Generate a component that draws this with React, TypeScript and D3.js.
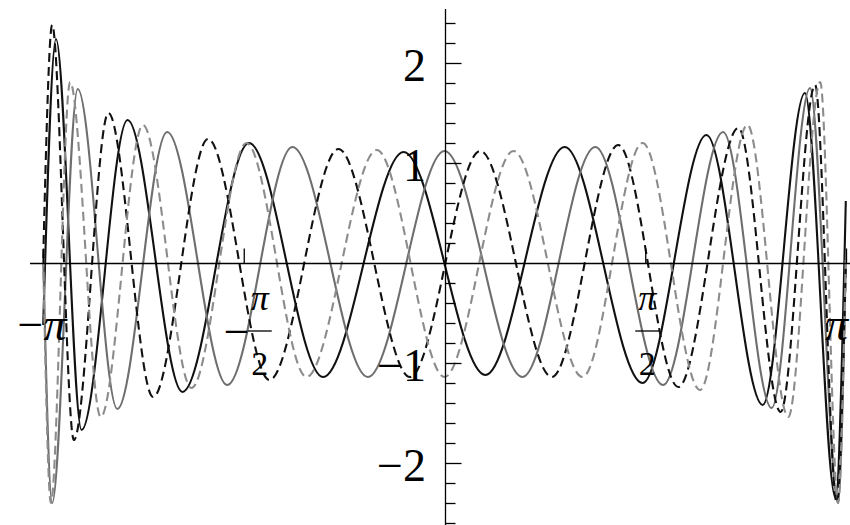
import React, { useEffect, useRef } from 'react';
import * as d3 from 'd3';

const W = 850;
const H = 525;

// turning points of each curve, x in radians
const blackSolidX = [-3.14, -3.04, -2.84, -2.48, -2.05, -1.53, -0.95, -0.32, 0.32, 0.94, 1.55, 2.05, 2.49, 2.82, 3.06, 3.14];
const blackSolidY = [-0.62, 2.24, -1.67, 1.43, -1.29, 1.20, -1.14, 1.11, -1.12, 1.16, -1.20, 1.28, -1.42, 1.70, -2.35, 0.62];

const graySolidX = [-3.14, -3.07, -2.87, -2.56, -2.17, -1.70, -1.19, -0.60, 0.0, 0.61, 1.18, 1.71, 2.18, 2.56, 2.86, 3.08, 3.14];
const graySolidY = [0.05, -2.40, 1.74, -1.46, 1.31, -1.22, 1.16, -1.14, 1.12, -1.14, 1.16, -1.22, 1.31, -1.45, 1.75, -2.40, 0.05];

const blackDashX = [-3.14, -3.07, -2.90, -2.63, -2.28, -1.85, -1.37, -0.83, -0.27, 0.28, 0.84, 1.36, 1.83, 2.30, 2.63, 2.90, 3.07, 3.14];
const blackDashY = [0.05, 2.38, -1.77, 1.50, -1.34, 1.24, -1.17, 1.14, -1.14, 1.12, -1.14, 1.18, -1.24, 1.35, -1.49, 1.78, -2.40, -0.05];

const grayDashX = [-3.14, -3.08, -2.93, -2.69, -2.36, -1.98, -1.55, -1.08, -0.53, 0.0, 0.54, 1.08, 1.55, 2.00, 2.37, 2.69, 2.94, 3.08, 3.14];
const grayDashY = [0.05, -2.40, 1.81, -1.54, 1.38, -1.25, 1.20, -1.14, 1.13, -1.14, 1.12, -1.14, 1.20, -1.27, 1.38, -1.54, 1.81, -2.40, 0.05];

const yMajor = [-2, -1, 1, 2];
const yMajorLabels = ['\u22122', '\u22121', '1', '2'];
const yMinor = [-2.6, -2.4, -2.2, -1.8, -1.6, -1.4, -1.2, -0.8, -0.6, -0.4, -0.2, 0.2, 0.4, 0.6, 0.8, 1.2, 1.4, 1.6, 1.8, 2.2, 2.4];
const xTicks = [-Math.PI, -Math.PI / 2, Math.PI / 2, Math.PI];

const series = [
  { xs: blackSolidX, ys: blackSolidY, color: '#111', dash: null },
  { xs: graySolidX, ys: graySolidY, color: '#6e6e6e', dash: null },
  { xs: blackDashX, ys: blackDashY, color: '#111', dash: '9,5' },
  { xs: grayDashX, ys: grayDashY, color: '#8c8c8c', dash: '9,5' },
];

function Chart() {
  const ref = useRef<SVGSVGElement>(null);

  useEffect(() => {
    const svg = d3.select(ref.current);
    svg.selectAll('*').remove();

    const x = d3.scaleLinear().domain([-Math.PI, Math.PI]).range([43, 846]);
    const y = d3.scaleLinear().domain([-2.62, 2.54]).range([525, 9]);
    const font = 'Liberation Serif, Times New Roman, serif';

    const line = d3.line<[number, number]>()
      .x(d => x(d[0]))
      .y(d => y(d[1]))
      .curve(d3.curveMonotoneX);

    series.forEach(s => {
      const pts = s.xs.map((v, i) => [v, s.ys[i]] as [number, number]);
      svg.append('path')
        .attr('d', line(pts))
        .attr('fill', 'none')
        .attr('stroke', s.color)
        .attr('stroke-width', 2.1)
        .attr('stroke-dasharray', s.dash);
    });

    // axes lines
    const y0 = Math.round(y(0)) + 0.5;
    const x0 = Math.round(x(0)) + 0.5;
    svg.append('line')
      .attr('x1', 30).attr('x2', W)
      .attr('y1', y0).attr('y2', y0)
      .attr('stroke', '#000').attr('stroke-width', 1.3);
    svg.append('line')
      .attr('x1', x0).attr('x2', x0)
      .attr('y1', 9).attr('y2', H)
      .attr('stroke', '#000').attr('stroke-width', 1.3);

    // y ticks, drawn to the right of the axis
    svg.append('g')
      .attr('transform', 'translate(' + x0 + ',0)')
      .call(d3.axisRight(y).tickValues(yMinor).tickSize(10).tickFormat(() => ''))
      .call(g => g.select('.domain').remove());
    svg.append('g')
      .attr('transform', 'translate(' + x0 + ',0)')
      .call(d3.axisRight(y).tickValues(yMajor).tickSize(16).tickFormat(() => ''))
      .call(g => g.select('.domain').remove());

    // x ticks, upward
    svg.append('g')
      .attr('transform', 'translate(0,' + y0 + ')')
      .call(d3.axisTop(x).tickValues(xTicks).tickSize(15).tickFormat(() => ''))
      .call(g => g.select('.domain').remove());

    svg.selectAll('.tick line').attr('stroke', '#000').attr('stroke-width', 1.3);

    // y labels
    yMajor.forEach((v, i) => {
      svg.append('text')
        .attr('x', 426)
        .attr('y', y(v) + 18)
        .attr('text-anchor', 'end')
        .attr('font-family', font)
        .attr('font-size', 46)
        .text(yMajorLabels[i]);
    });

    // x labels
    const base = y(0);
    svg.append('text')
      .attr('x', x(-Math.PI) - 1)
      .attr('y', base + 77)
      .attr('text-anchor', 'middle')
      .attr('font-family', font)
      .attr('font-size', 46)
      .call(t => t.append('tspan').text('\u2212'))
      .call(t => t.append('tspan').attr('font-style', 'italic').text('\u03c0'));
    svg.append('text')
      .attr('x', W - 2)
      .attr('y', base + 77)
      .attr('text-anchor', 'end')
      .attr('font-family', font)
      .attr('font-style', 'italic')
      .attr('font-size', 46)
      .text('\u03c0');

    [-Math.PI / 2, Math.PI / 2].forEach(v => {
      const cx = v < 0 ? x(v) + 16 : x(v) + 2;
      const g = svg.append('g').attr('font-family', font);
      if (v < 0) {
        g.append('text')
          .attr('x', cx - 10).attr('y', base + 84)
          .attr('text-anchor', 'end')
          .attr('font-size', 46)
          .text('\u2212');
      }
      g.append('text')
        .attr('x', cx).attr('y', base + 47)
        .attr('text-anchor', 'middle')
        .attr('font-style', 'italic')
        .attr('font-size', 36)
        .text('\u03c0');
      g.append('line')
        .attr('x1', cx - 12).attr('x2', cx + 12)
        .attr('y1', base + 68).attr('y2', base + 68)
        .attr('stroke', '#000').attr('stroke-width', 1.3);
      g.append('text')
        .attr('x', cx).attr('y', base + 112)
        .attr('text-anchor', 'middle')
        .attr('font-size', 34)
        .text('2');
    });
  }, []);

  return <svg ref={ref} width={W} height={H} style={{ position: 'absolute', left: 0, top: 0, background: '#fff' }} />;
}

export default function App() {
  return <Chart />;
}
